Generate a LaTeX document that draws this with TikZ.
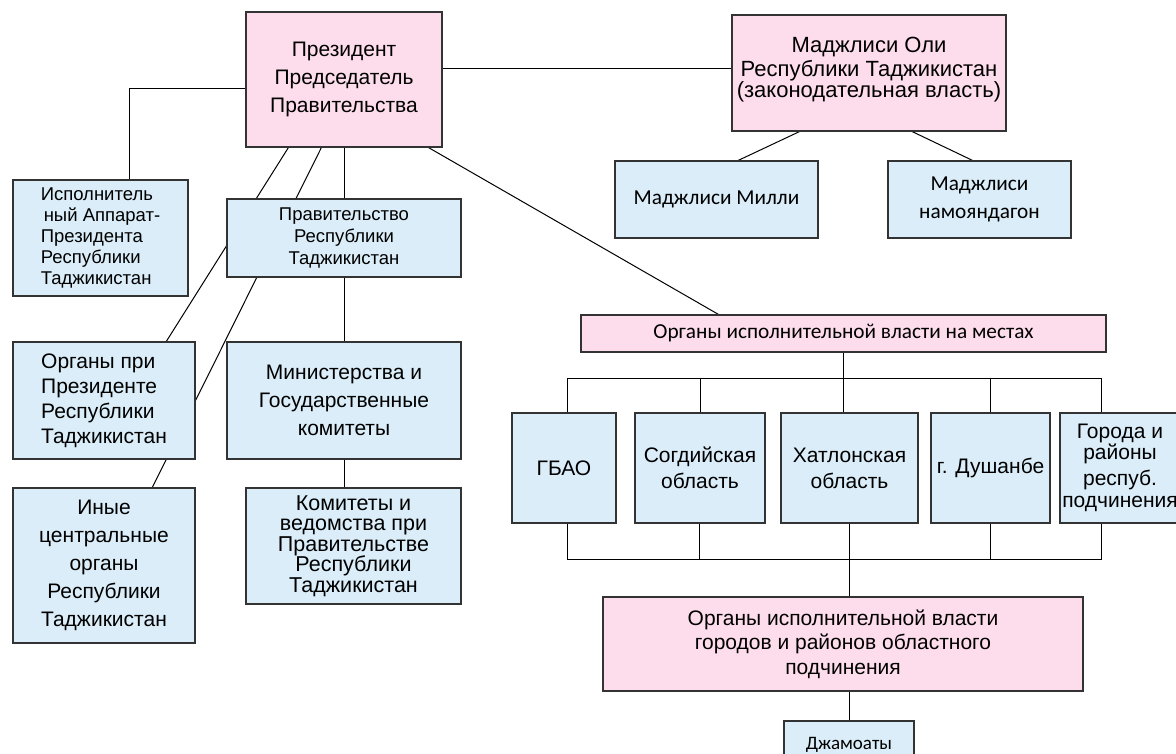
\documentclass[tikz,border=0pt]{standalone}
\usepackage{fontspec}
\setmainfont{Liberation Sans}
\newfontfamily\calfont{Carlito}
\usetikzlibrary{calc}
\pgfdeclarelayer{bg}
\pgfsetlayers{bg,main}
\definecolor{pinkf}{HTML}{FDDDEC}
\definecolor{bluef}{HTML}{DAEDF8}
\definecolor{edgec}{HTML}{333333}
\begin{document}
\begin{tikzpicture}[x=1pt,y=-1pt,
  box/.style={draw=edgec, line width=1.3pt, inner sep=0pt, align=center,
    font=\fontsize{21}{28}\selectfont},
  pinkbox/.style={box, fill=pinkf},
  bluebox/.style={box, fill=bluef},
  link/.style={draw=black, line width=1pt}]
\clip (0,0) rectangle (1176,753);
% top level
\node[pinkbox, minimum width=196pt, minimum height=135pt] (pres) at (344,79.5)
  {Президент\\Председатель\\Правительства};
\node[pinkbox, minimum width=274pt, minimum height=116pt,
  font=\fontsize{22}{24}\selectfont] (oli) at (869,73)
  {Маджлиси Оли\\Республики Таджикистан\\[-3pt](законодательная власть)\rule[-12pt]{0pt}{12pt}};
\node[bluebox, minimum width=203pt, minimum height=77pt,
  font=\calfont\fontsize{21.3}{28}\selectfont] (milli) at (716.5,199.5) {Маджлиси Милли};
\node[bluebox, minimum width=183pt, minimum height=77pt,
  font=\calfont\fontsize{21.3}{28}\selectfont] (namo) at (979.5,199.5) {Маджлиси\\намояндагон};
% left column
\node[bluebox, minimum width=175pt, minimum height=116pt, align=left,
  font=\fontsize{18.5}{21}\selectfont] (isp) at (100.5,238)
  {Исполнитель\\\hspace{3pt}ный Аппарат-\\Президента\\Республики\\Таджикистан};
\node[bluebox, minimum width=234pt, minimum height=78pt,
  font=\fontsize{18.5}{22}\selectfont] (prav) at (344,238)
  {Правительство\\Республики\\Таджикистан};
\node[bluebox, minimum width=182pt, minimum height=117pt, align=left,
  font=\fontsize{21}{25}\selectfont] (opri) at (104,400.5)
  {Органы при\\Президенте\\Республики\\Таджикистан};
\node[bluebox, minimum width=234pt, minimum height=117pt] (mini) at (344,400.5)
  {Министерства и\\Государственные\\комитеты};
\node[bluebox, minimum width=182pt, minimum height=155pt] (inye) at (104,565.5)
  {Иные\\центральные\\органы\\Республики\\Таджикистан};
\node[bluebox, minimum width=215pt, minimum height=116pt,
  font=\fontsize{21.5}{20.5}\selectfont] (kom) at (353.5,546)
  {Комитеты и\\ведомства при\\Правительстве\\Республики\\Таджикистан};
% local bodies
\node[pinkbox, minimum width=525pt, minimum height=37pt,
  font=\calfont\fontsize{21.3}{24}\selectfont] (mest) at (843.5,333.5)
  {Органы исполнительной власти на местах};
\tikzset{region/.style={bluebox, minimum height=110pt, font=\fontsize{21}{26}\selectfont}}
\node[region, minimum width=104pt] (gbao) at (564,468) {ГБАО};
\node[region, minimum width=130pt] (sogd) at (700,468) {Согдийская\\область};
\node[region, minimum width=137pt] (khat) at (849.5,468) {Хатлонская\\область};
\node[region, minimum width=119pt] (dush) at (990.5,468) {г. Душанбе};
\node[region, minimum width=120pt, font=\fontsize{21}{21}\selectfont] (gor) at (1120,468)
  {Города и\\районы\\[5pt]респуб.\\[1pt]подчинения};
\node[pinkbox, minimum width=480pt, minimum height=94pt,
  font=\fontsize{21}{24.5}\selectfont] (orgr) at (843,644)
  {Органы исполнительной власти\\городов и районов областного\\подчинения};
\node[bluebox, minimum width=130pt, minimum height=49pt,
  font=\calfont\fontsize{19}{22}\selectfont] (djam) at (849,745.5) {Джамоаты\rule[-5pt]{0pt}{5pt}};
% connectors
\coordinate (busy) at (0,378);
\coordinate (busb) at (0,559);
\coordinate (gtop) at ([xshift=42pt]gor.north west);
\coordinate (gbot) at ([xshift=42pt]gor.south west);
\coordinate (gbt) at ([xshift=3pt]gbao.north);
\coordinate (gbb) at ([xshift=3pt]gbao.south);
\coordinate (sgb) at ([xshift=-1pt]sogd.south);
\begin{pgfonlayer}{bg}
\draw[link] ([yshift=-57pt]pres.north east) -- ([yshift=-54pt]oli.north west);
\draw[link] ([yshift=-77pt]pres.north west) -| ([xshift=28.5pt]isp.north);
\draw[link] ([xshift=43pt]pres.south west) -- ([xshift=154pt]opri.north west);
\draw[link] ([xshift=76pt]pres.south west) -- ([xshift=140pt]inye.north west);
\draw[link] (pres.south) -- (prav.north);
\draw[link] (prav.south) -- (mini.north);
\draw[link] (mini.south) -- (mini.south |- kom.north);
\draw[link] ([xshift=-14pt]pres.south east) -- ([xshift=138pt]mest.north west);
\draw[link] ([xshift=68pt]oli.south west) -- ([xshift=124pt]milli.north west);
\draw[link] ([xshift=181pt]oli.south west) -- ([xshift=85pt]namo.north west);
\draw[link] (mest.south) -- (mest.south |- khat.north);
\draw[link] (gbt) -- (gbt |- busy) -- (gtop |- busy) -- (gtop);
\draw[link] (sogd.north) -- (sogd.north |- busy);
\draw[link] (dush.north) -- (dush.north |- busy);
\draw[link] (gbb) -- (gbb |- busb) -- (gbot |- busb) -- (gbot);
\draw[link] (sgb) -- (sgb |- busb);
\draw[link] (dush.south) -- (dush.south |- busb);
\draw[link] (khat.south) -- (khat.south |- orgr.north);
\draw[link] (djam.north |- orgr.south) -- (djam.north);
\end{pgfonlayer}
\end{tikzpicture}
\end{document}
